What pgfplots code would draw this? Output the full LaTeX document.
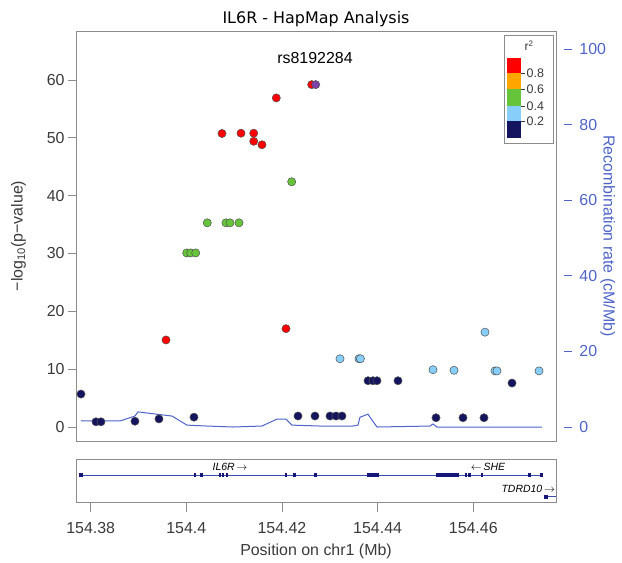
\documentclass[border=0pt]{standalone}
\usepackage{fontspec}
\setmainfont{Liberation Sans}
\newfontfamily\titlefont{DejaVu Sans}
\usepackage{pgfplots}
\pgfplotsset{compat=1.18}
\definecolor{snpred}{HTML}{FF0000}
\definecolor{snporange}{HTML}{FFA500}
\definecolor{snpgreen}{HTML}{66C43A}
\definecolor{snplblue}{HTML}{87CEFA}
\definecolor{snpnavy}{HTML}{15155F}
\definecolor{snppurple}{HTML}{7E42A8}
\definecolor{recblue}{HTML}{4F63C8}
\definecolor{genenavy}{HTML}{16167A}
\definecolor{geneline}{HTML}{3C4CB0}
\definecolor{boxgray}{HTML}{8C8C8C}
\definecolor{txt}{HTML}{3A3A3A}
\definecolor{markedge}{HTML}{505050}
\newcommand{\fs}{\fontsize{16}{19}\selectfont}
\pgfplotsset{snp/.style={only marks, mark=*, mark size=4.1bp, mark options={draw=markedge, line width=0.5bp, fill=#1}}}
\begin{document}
\begin{tikzpicture}
% recombination rate axis (right)
\begin{axis}[
  at={(76bp,-31bp)}, anchor=north west,
  scale only axis, width=480bp, height=410bp,
  xmin=154.37693, xmax=154.47730, ymin=-3.70, ymax=104.76,
  axis x line=none, axis y line*=right,
  y axis line style={draw=none},
  ytick={0,20,40,60,80,100},
  tick align=outside, major tick length=8bp,
  ytick style={draw=recblue, line width=0.8bp, xshift=8bp},
  yticklabel style={text=recblue, font=\fs, xshift=12bp},
  /pgf/number format/assume math mode=true,
  ylabel={Recombination rate (cM/Mb)},
  ylabel style={text=recblue, font=\fs, rotate=180, at={(axis description cs:1.108,0.5)}, anchor=center},
]
\addplot[recblue, line width=1bp] coordinates {
(154.37797,1.6) (154.38613,1.6) (154.38926,2.9) (154.38989,4.0) (154.39700,2.9)
(154.40014,0.5) (154.40432,0.26) (154.40976,0.0) (154.41582,0.26) (154.41896,2.1)
(154.42084,2.1) (154.42210,0.5) (154.42795,0.26) (154.43485,0.26) (154.43589,0.5)
(154.43632,2.6) (154.43799,3.4) (154.43841,2.6) (154.43987,0.0) (154.45095,0.26)
(154.45158,0.8) (154.45241,0.0) (154.47437,0.0)
};
\end{axis}
% association axis (left)
\begin{axis}[
  at={(76bp,-31bp)}, anchor=north west,
  scale only axis, width=480bp, height=410bp,
  xmin=154.37693, xmax=154.47730, ymin=-2.42, ymax=68.47,
  xtick=\empty, ytick={0,10,20,30,40,50,60}, ytick pos=left,
  tick align=outside, major tick length=8bp,
  axis line style={draw=boxgray, line width=0.8bp},
  ytick style={draw=boxgray, line width=0.8bp},
  yticklabel style={text=txt, font=\fs},
  /pgf/number format/assume math mode=true,
  ylabel={−log\textsubscript{10}(p−value)},
  ylabel style={text=txt, font=\fs, at={(axis description cs:-0.12,0.5)}, anchor=center},
  clip=false,
]
\addplot[snp=snpnavy] coordinates {
(154.37797,5.7) (154.38111,0.9) (154.38215,0.9) (154.38926,1.0) (154.39428,1.4)
(154.40160,1.7) (154.42335,1.9) (154.42690,1.9) (154.43004,1.9) (154.43130,1.9)
(154.43255,1.9) (154.43799,8.0) (154.43903,8.0) (154.43987,8.0) (154.44426,8.0)
(154.45221,1.6) (154.45785,1.6) (154.46224,1.6) (154.46810,7.6)
};
\addplot[snp=snplblue] coordinates {
(154.43213,11.8) (154.43610,11.8) (154.43640,11.8) (154.45158,9.9) (154.45597,9.8)
(154.46245,16.4) (154.46454,9.7) (154.46496,9.7) (154.47375,9.7)
};
\addplot[snp=snpgreen] coordinates {
(154.40008,30.1) (154.40091,30.1) (154.40196,30.1)
(154.40438,35.3) (154.40829,35.3) (154.40913,35.3) (154.41101,35.3)
(154.42203,42.4)
};
\addplot[snp=snpred] coordinates {
(154.39575,15.05) (154.42084,17.0)
(154.40746,50.75) (154.41143,50.8) (154.41409,50.8) (154.41409,49.4) (154.41582,48.8)
(154.41881,56.9) (154.42621,59.2)
};
\addplot[snp=snppurple] coordinates {(154.42705,59.2)};
\node[font=\fs, text=black, anchor=base] at (axis cs:154.42690,62.8) {rs8192284};
\end{axis}
% title
\node[font=\titlefont\fontsize{16}{19}\selectfont, anchor=base] at (316bp,-23.5bp) {IL6R - HapMap Analysis};
% r^2 legend
\begin{scope}[x=1bp,y=-1bp]
\draw[boxgray, line width=0.6bp, fill=white] (504,35) rectangle (553,143);
\node[font=\fontsize{12}{14}\selectfont, text=txt] at (529,46) {r\textsuperscript{2}};
\fill[snpred] (507,58) rectangle (521,73);
\fill[snporange] (507,73) rectangle (521,89);
\fill[snpgreen] (507,89) rectangle (521,106);
\fill[snplblue] (507,106) rectangle (521,121);
\fill[snpnavy] (507,121) rectangle (521,138);
\foreach \yy/\lab in {73/0.8,89/0.6,106/0.4,121/0.2}{
  \draw[txt, line width=0.5bp] (521,\yy) -- (525,\yy);
  \node[anchor=west, inner sep=1bp, font=\fontsize{12.5}{14}\selectfont, text=txt] at (525.5,\yy) {\lab};
}
\end{scope}
% gene track
\begin{axis}[
  at={(76bp,-459bp)}, anchor=north west,
  scale only axis, width=480bp, height=43bp,
  xmin=154.37693, xmax=154.47730, ymin=0, ymax=1,
  ytick=\empty,
  xtick={154.38,154.40,154.42,154.44,154.46},
  xticklabels={154.38,154.4,154.42,154.44,154.46},
  xtick pos=bottom, tick align=outside, major tick length=10bp,
  axis line style={draw=boxgray, line width=0.8bp},
  xtick style={draw=boxgray, line width=0.8bp},
  xticklabel style={text=txt, font=\fs, yshift=-7bp},
  xlabel={Position on chr1 (Mb)},
  xlabel style={text=txt, font=\fs, at={(axis description cs:0.5,-1.14)}, anchor=center},
]
\addplot[geneline, line width=0.8bp] coordinates {(154.37797,0.63) (154.47431,0.63)};
\addplot[geneline, line width=0.8bp] coordinates {(154.47557,0.12) (154.48,0.12)};
\addplot[genenavy, line width=4.5bp, unbounded coords=jump] table {
x y
154.37755 0.63
154.37839 0.63
154.378 nan
154.40151 0.63
154.40211 0.63
154.402 nan
154.40283 0.63
154.40343 0.63
154.403 nan
154.40680 0.63
154.40732 0.63
154.407 nan
154.40737 0.63
154.40782 0.63
154.4075 nan
154.40820 0.63
154.40880 0.63
154.408 nan
154.42059 0.63
154.42109 0.63
154.420 nan
154.42233 0.63
154.42283 0.63
154.422 nan
154.42680 0.63
154.42730 0.63
154.427 nan
154.43778 0.63
154.44029 0.63
154.439 nan
154.45221 0.63
154.45702 0.63
154.455 nan
154.45819 0.63
154.45879 0.63
154.4585 nan
154.45887 0.63
154.45947 0.63
154.459 nan
154.46153 0.63
154.46213 0.63
154.4618 nan
154.47142 0.63
154.47202 0.63
154.4717 nan
154.47401 0.63
154.47461 0.63
154.4743 nan
154.47473 0.12
154.47557 0.12
};
\node[font=\fontsize{10.5}{12}\selectfont\itshape] at (axis cs:154.40913,0.81) {IL6R\,$\rightarrow$};
\node[font=\fontsize{10.5}{12}\selectfont\itshape] at (axis cs:154.46308,0.81) {$\leftarrow$\,SHE};
\node[font=\fontsize{10.5}{12}\selectfont\itshape] at (axis cs:154.47150,0.30) {TDRD10\,$\rightarrow$};
\end{axis}
\pgfresetboundingbox
\path (0bp,0bp) rectangle (622bp,-563bp);
\end{tikzpicture}
\end{document}
